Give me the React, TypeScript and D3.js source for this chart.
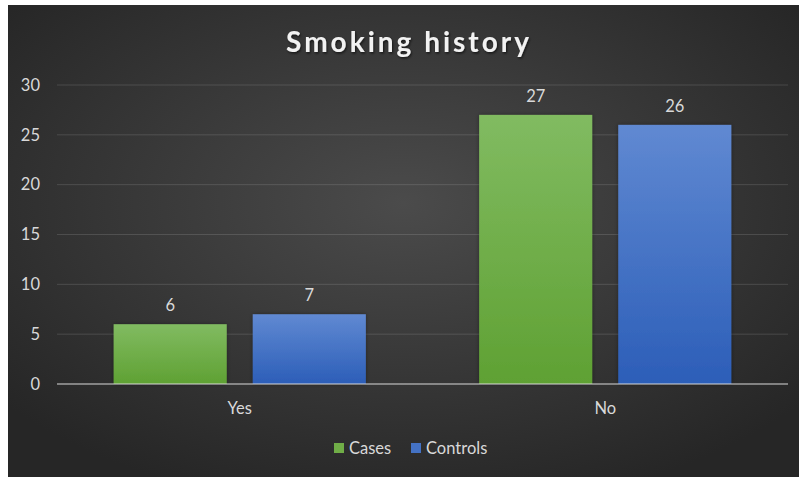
import React from "react";
import * as d3 from "d3";

const categories = ["Yes", "No"];
const seriesNames = ["Cases", "Controls"];
const casesValues = [6, 27];
const controlsValues = [7, 26];
const yTicks = [0, 5, 10, 15, 20, 25, 30];

const W = 799;
const H = 477;
const frame = { x: 8, y: 5, w: 791, h: 472 };
const plot = { left: 57, right: 788, top: 85, bottom: 384 };
const FONT = "Lato, 'Open Sans', sans-serif";
const LABEL_SIZE = 16.5;

const seriesValues = [casesValues, controlsValues];
const seriesGrad = ["gradCases", "gradControls"];
const seriesSwatch = ["#70ad47", "#4472c4"];

export default function App() {
  const x0 = d3
    .scaleBand<string>()
    .domain(categories)
    .range([plot.left, plot.right])
    .paddingInner(0.31)
    .paddingOuter(0.155);
  const x1 = d3
    .scaleBand<string>()
    .domain(seriesNames)
    .range([0, x0.bandwidth()])
    .paddingInner(0.187);
  const y = d3.scaleLinear().domain([0, 30]).range([plot.bottom, plot.top]);

  return (
    <div style={{ position: "fixed", left: 0, top: 0, width: W, height: H, background: "#fff" }}>
      <svg width={W} height={H} style={{ display: "block" }}>
        <defs>
          <radialGradient id="bg" cx="50%" cy="42%" r="66%">
            <stop offset="0" stopColor="#4b4b4b" />
            <stop offset="1" stopColor="#262626" />
          </radialGradient>
          <linearGradient id="gradCases" x1="0" y1="0" x2="0" y2="1">
            <stop offset="0" stopColor="#81bb61" />
            <stop offset="1" stopColor="#5fa133" />
          </linearGradient>
          <linearGradient id="gradControls" x1="0" y1="0" x2="0" y2="1">
            <stop offset="0" stopColor="#6089d2" />
            <stop offset="1" stopColor="#2c5eb8" />
          </linearGradient>
          <filter id="titleShadow" x="-10%" y="-30%" width="120%" height="160%">
            <feDropShadow dx="1" dy="1.5" stdDeviation="1.2" floodColor="#000" floodOpacity="0.6" />
          </filter>
          <filter id="barShadow" x="-10%" y="-10%" width="120%" height="120%">
            <feDropShadow dx="0" dy="0" stdDeviation="2" floodColor="#000" floodOpacity="0.35" />
          </filter>
        </defs>

        <rect x={frame.x} y={frame.y} width={frame.w} height={frame.h} fill="url(#bg)" />

        <text
          x={409}
          y={52}
          textAnchor="middle"
          fill="#f2f2f2"
          fontFamily={FONT}
          fontWeight={700}
          fontSize={28}
          letterSpacing={3}
          filter="url(#titleShadow)"
        >
          Smoking history
        </text>

        {yTicks.map((t) => (
          <g key={t}>
            {t !== 0 && (
              <line
                x1={plot.left}
                x2={plot.right}
                y1={y(t)}
                y2={y(t)}
                stroke="rgba(217,217,217,0.16)"
                strokeWidth={1}
              />
            )}
            <text
              x={40}
              y={y(t)}
              dy="0.35em"
              textAnchor="end"
              fill="#d9d9d9"
              fontFamily={FONT}
              fontSize={LABEL_SIZE}
            >
              {t}
            </text>
          </g>
        ))}

        {categories.map((c, ci) => (
          <g key={c}>
            {seriesNames.map((s, si) => {
              const v = seriesValues[si][ci];
              const bx = (x0(c) ?? 0) + (x1(s) ?? 0);
              return (
                <g key={s}>
                  <rect
                    x={bx}
                    y={y(v)}
                    width={x1.bandwidth()}
                    height={y(0) - y(v)}
                    fill={`url(#${seriesGrad[si]})`}
                    filter="url(#barShadow)"
                  />
                  <text
                    x={bx + x1.bandwidth() / 2}
                    y={y(v) - 13}
                    textAnchor="middle"
                    fill="#d9d9d9"
                    fontFamily={FONT}
                    fontSize={LABEL_SIZE}
                  >
                    {v}
                  </text>
                </g>
              );
            })}
            <text
              x={(x0(c) ?? 0) + x0.bandwidth() / 2}
              y={414}
              textAnchor="middle"
              fill="#d9d9d9"
              fontFamily={FONT}
              fontSize={LABEL_SIZE}
            >
              {c}
            </text>
          </g>
        ))}

        <line
          x1={plot.left}
          x2={plot.right}
          y1={y(0)}
          y2={y(0)}
          stroke="rgba(217,217,217,0.5)"
          strokeWidth={2}
        />

        {seriesNames.map((s, si) => {
          const lx = [334, 411][si];
          return (
            <g key={s}>
              <rect x={lx} y={443} width={10} height={10} fill={seriesSwatch[si]} />
              <text x={lx + 15} y={454} fill="#d9d9d9" fontFamily={FONT} fontSize={LABEL_SIZE}>
                {s}
              </text>
            </g>
          );
        })}
      </svg>
    </div>
  );
}
